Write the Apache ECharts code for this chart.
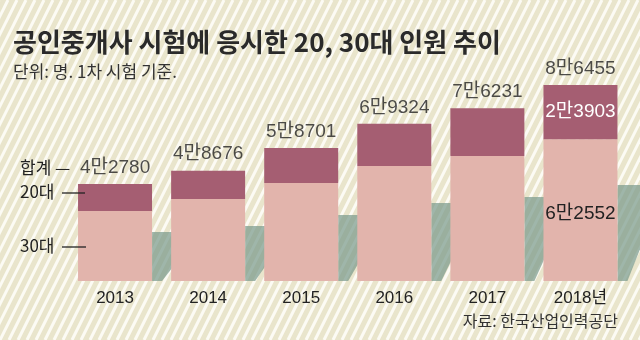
<!DOCTYPE html>
<html><head><meta charset="utf-8">
<script src="https://cdn.jsdelivr.net/npm/echarts@6/dist/echarts.min.js"></script>
<style>
html,body{margin:0;padding:0;background:#e9e5cc}
#c{width:640px;height:340px;}
</style>
</head><body><div id="c"></div>
<script>
var years = ['2013', '2014', '2015', '2016', '2017', '2018년'];
var totals = [42780, 48676, 58701, 69324, 76231, 86455];
var age30 = [30900, 36200, 43200, 50700, 55100, 62552];
var age20 = [11880, 12476, 15501, 18624, 21131, 23903];
var shadowVals = [21600, 24300, 29100, 34400, 37100, 42400];
var legendLabels = ['합계', '20대', '30대'];

function fmt(v) {
  var man = Math.floor(v / 10000), rest = v % 10000;
  return man + '만' + rest;
}

var FONT = 'Liberation Sans, Noto Sans CJK KR, sans-serif';
var KFONT = 'Noto Sans CJK KR, sans-serif';

var chart = echarts.init(document.getElementById('c'), null, {renderer: 'canvas'});
var BARW = 74;

chart.setOption({
  animation: false,
  backgroundColor: '#e9e5cc',
  title: {
    text: '공인중개사 시험에 응시한 20, 30대 인원 추이',
    subtext: '단위: 명. 1차 시험 기준.',
    left: 8, top: 24, z: 10,
    itemGap: 8,
    textStyle: {fontFamily: KFONT, fontSize: 26, fontWeight: 'bold', color: '#2a2a2a'},
    subtextStyle: {fontFamily: KFONT, fontSize: 17, color: '#333'}
  },
  grid: {left: 68.5, right: 13, top: 54.3, bottom: 59},
  xAxis: {
    type: 'category', data: years, z: 10,
    axisLine: {show: false}, axisTick: {show: false},
    axisLabel: {fontFamily: FONT, fontSize: 17, color: '#222', margin: 9}
  },
  yAxis: {type: 'value', min: 0, max: 100000, show: false, splitLine: {show: false}},
  graphic: [
    {type: 'text', z: 20, left: 20, top: 159, style: {text: legendLabels[0] + ' —', font: '17px ' + KFONT, fill: '#222'}},
    {type: 'text', z: 20, left: 20, top: 183, style: {text: legendLabels[1], font: '17px ' + KFONT, fill: '#222'}},
    {type: 'line', z: 20, shape: {x1: 62, y1: 193, x2: 85, y2: 193}, style: {stroke: '#222', lineWidth: 1.3}},
    {type: 'text', z: 20, left: 20, top: 237, style: {text: legendLabels[2], font: '17px ' + KFONT, fill: '#222'}},
    {type: 'line', z: 20, shape: {x1: 62, y1: 247, x2: 86, y2: 247}, style: {stroke: '#222', lineWidth: 1.3}},
    {type: 'text', z: 20, right: 22, top: 313, style: {text: '자료: 한국산업인력공단', font: '16px ' + KFONT, fill: '#333'}}
  ],
  series: [
    {
      // decorative diagonal background stripes
      type: 'custom', z: 0, clip: false, silent: true,
      data: [0],
      renderItem: function (params, api) {
        var children = [];
        for (var k = -20; k < 72; k++) {
          children.push({type: 'line',
            shape: {x1: k * 9, y1: 340, x2: k * 9 + 170, y2: 0},
            style: {stroke: '#fcfbf4', lineWidth: 3}});
        }
        return {type: 'group', children: children};
      }
    },
    {
      type: 'custom', z: 1, clip: false,
      data: shadowVals.map(function (v, i) { return [i, v]; }),
      renderItem: function (params, api) {
        var top = api.coord([api.value(0), api.value(1)]);
        var base = api.coord([api.value(0), 0]);
        var xr = top[0] + BARW / 2;
        return {
          type: 'polygon',
          shape: {points: [[xr, top[1]], [xr + 48, top[1]], [xr + 10, base[1]], [xr, base[1]]]},
          style: {fill: 'rgba(120,152,138,0.7)'}
        };
      }
    },
    {
      name: '30대', type: 'bar', stack: 't', barWidth: BARW, z: 3,
      itemStyle: {color: '#e2b4ac'},
      data: age30.map(function (v, i) {
        return {value: v, label: {show: i === 5, position: 'inside', formatter: fmt(v),
          fontFamily: FONT, fontSize: 19, color: '#222', offset: [0, 4]}};
      })
    },
    {
      name: '20대', type: 'bar', stack: 't', barWidth: BARW, z: 3,
      itemStyle: {color: '#a55e72'},
      data: age20.map(function (v, i) {
        return {value: v, label: {show: i === 5, position: 'inside', formatter: fmt(v),
          fontFamily: FONT, fontSize: 19, color: '#fff'}};
      })
    },
    {
      name: '합계', type: 'scatter', symbolSize: 0, z: 4,
      data: totals,
      label: {show: true, position: 'top', distance: 7, formatter: function (p) { return fmt(p.value); },
        fontFamily: FONT, fontSize: 19, color: '#222'}
    }
  ]
});
</script></body></html>
